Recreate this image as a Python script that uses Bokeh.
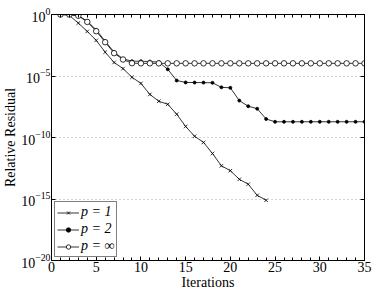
from bokeh.plotting import figure
from bokeh.models import (LinearAxis, LogAxis, FixedTicker, SingleIntervalTicker, Range1d,
                          LogTickFormatter, BasicTickFormatter)
from bokeh.embed import file_html
from bokeh.resources import INLINE

# ---- data ----
iter_p1 = [1, 2, 3, 4, 5, 6, 7, 8, 9, 10, 11, 12, 13, 14, 15, 16, 17, 18, 19, 20, 21, 22, 23, 24]
res_p1 = [1.0, 0.83, 0.2, 0.042, 7.9e-3, 8.7e-4, 1.26e-4, 4.0e-5, 7.9e-6, 2.5e-6, 3.2e-7, 8.9e-8,
          5.0e-8, 7.9e-9, 7.9e-10, 1.26e-10, 4.0e-11, 5.0e-12, 5.0e-13, 2.0e-13, 4.0e-14, 1.6e-14,
          2.0e-15, 7.9e-16]

iter_p2 = [1, 2, 3, 4, 5, 6, 7, 8, 9, 10, 11, 12, 13, 14, 15, 16, 17, 18, 19, 20, 21, 22, 23, 24,
           25, 26, 27, 28, 29, 30, 31, 32, 33, 34, 35]
res_p2 = [1.0, 1.0, 0.79, 0.29, 0.056, 6.8e-3, 8.7e-4, 2.5e-4, 1.6e-4, 1.6e-4, 1.5e-4, 1.35e-4,
          3.5e-5, 4.3e-6, 3.0e-6, 2.95e-6, 2.9e-6, 2.8e-6, 1.2e-6, 1.1e-6, 1.0e-7, 3.5e-8, 2.2e-8,
          3.2e-9, 1.9e-9, 1.9e-9, 1.9e-9, 1.9e-9, 1.9e-9, 1.9e-9, 1.9e-9, 1.9e-9, 1.9e-9, 1.9e-9,
          1.9e-9]

iter_pinf = [1, 2, 3, 4, 5, 6, 7, 8, 9, 10, 11, 12, 13, 14, 15, 16, 17, 18, 19, 20, 21, 22, 23, 24,
             25, 26, 27, 28, 29, 30, 31, 32, 33, 34, 35]
res_pinf = [1.0, 1.0, 0.79, 0.25, 0.044, 5.6e-3, 7.2e-4, 2.2e-4, 1.1e-4, 1.07e-4, 1.07e-4, 1.07e-4,
            1.07e-4, 1.07e-4, 1.07e-4, 1.07e-4, 1.07e-4, 1.07e-4, 1.07e-4, 1.07e-4, 1.07e-4, 1.07e-4,
            1.07e-4, 1.07e-4, 1.07e-4, 1.07e-4, 1.07e-4, 1.07e-4, 1.07e-4, 1.07e-4, 1.07e-4, 1.07e-4,
            1.07e-4, 1.07e-4, 1.07e-4]

labels = ["p = 1", "p = 2", "p = \u221e"]
y_ticks = [1e-20, 1e-15, 1e-10, 1e-5, 1.0]
x_major_interval = 5
x_label = "Iterations"
y_label = "Relative Residual"

FONT = "Liberation Serif"

p = figure(width=374, height=293, output_backend="svg", toolbar_location=None,
           y_axis_type="log", x_range=Range1d(0, 35), y_range=Range1d(1e-20, 1.0),
           min_border_left=51, min_border_top=14, min_border_right=10, min_border_bottom=33)
p.background_fill_color = "white"
p.border_fill_color = "white"
p.outline_line_color = "black"
p.outline_line_width = 1
p.outline_line_alpha = 1

# series
p.line(iter_p1, res_p1, line_color="black", line_width=0.8, legend_label=labels[0])
p.scatter(iter_p1, res_p1, marker="x", size=5, line_color="black", line_width=0.8, legend_label=labels[0])

p.line(iter_p2, res_p2, line_color="black", line_width=0.8, legend_label=labels[1])
p.scatter(iter_p2, res_p2, marker="circle", size=3, fill_color="black", line_color="black",
          line_width=0.8, legend_label=labels[1])

p.line(iter_pinf, res_pinf, line_color="black", line_width=0.8, legend_label=labels[2])
p.scatter(iter_pinf, res_pinf, marker="circle", size=5.5, fill_color="white", line_color="black",
          line_width=0.8, legend_label=labels[2])

# axes
xt = SingleIntervalTicker(interval=x_major_interval, num_minor_ticks=5)
yt = FixedTicker(ticks=y_ticks, minor_ticks=[])

xa = p.xaxis[0]
xa.ticker = xt
xa.axis_label = x_label
ya = p.yaxis[0]
ya.ticker = yt
ya.formatter = LogTickFormatter()
ya.axis_label = y_label

for ax in (xa, ya):
    ax.axis_label_text_font = FONT
    ax.axis_label_text_font_style = "normal"
    ax.axis_label_text_font_size = "14px"
    ax.axis_label_text_color = "black"
    ax.major_label_text_font = FONT
    ax.major_label_text_font_size = "14px"
    ax.major_label_text_color = "black"
    ax.axis_line_color = "black"
    ax.major_tick_line_color = "black"
    ax.minor_tick_line_color = "black"
    ax.major_tick_in = 4
    ax.major_tick_out = 0
    ax.minor_tick_in = 3
    ax.minor_tick_out = 0
    ax.major_label_standoff = 1
    ax.axis_label_standoff = 0

top = LinearAxis(ticker=xt, formatter=BasicTickFormatter(),
                 major_label_text_font_size="1px", major_label_text_alpha=0, major_label_standoff=0,
                 major_tick_in=4, major_tick_out=0, minor_tick_in=3, minor_tick_out=0,
                 axis_line_color="black")
right = LogAxis(ticker=yt, formatter=BasicTickFormatter(),
                major_label_text_font_size="1px", major_label_text_alpha=0, major_label_standoff=0,
                major_tick_in=4, major_tick_out=0, minor_tick_out=0, axis_line_color="black")
p.add_layout(top, "above")
p.add_layout(right, "right")

p.xgrid.visible = False
p.ygrid.grid_line_color = "#aaaaaa"
p.ygrid.grid_line_dash = "1 3"
p.ygrid.grid_line_width = 1

# legend
lg = p.legend[0]
lg.location = "bottom_left"
lg.margin = 3
lg.padding = 2
lg.spacing = 1
lg.label_text_font = FONT
lg.label_text_font_style = "italic"
lg.label_text_font_size = "14px"
lg.label_text_color = "black"
lg.label_height = 15
lg.label_width = 10
lg.label_standoff = 2
lg.glyph_width = 22
lg.glyph_height = 11
lg.border_line_color = "black"
lg.border_line_width = 1
lg.background_fill_alpha = 1

open("out.html", "w").write(file_html(p, INLINE))
